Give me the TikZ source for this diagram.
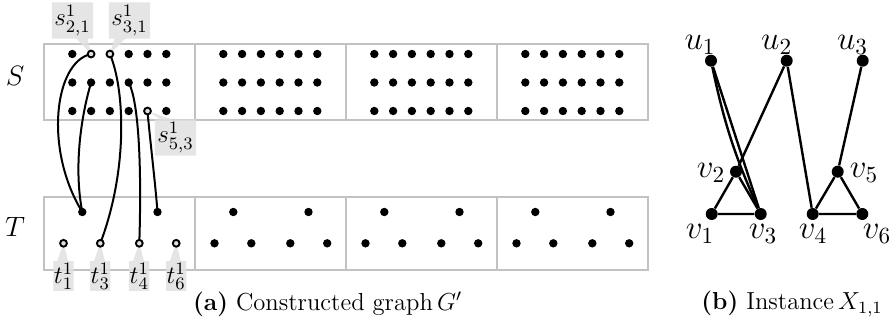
\RequirePackage{fix-cm}
\documentclass[tikz,border=0pt]{standalone}
\usetikzlibrary{shapes.callouts}
\definecolor{boxgray}{HTML}{C2C2C2}
\definecolor{tagfill}{HTML}{E0E0E0}
\pgfdeclarelayer{back}
\pgfdeclarelayer{mid}
\pgfsetlayers{back,mid,main}
\begin{document}
\begin{tikzpicture}[x=0.5pt,y=-0.5pt,
  cell/.style={draw=boxgray, line width=0.75pt},
  dot/.style={circle, fill=black, inner sep=0pt, minimum size=4.2pt},
  ring/.style={circle, draw=black, fill=tagfill, line width=0.95pt, inner sep=0pt, minimum size=3.4pt},
  stag/.style={rectangle callout, fill=tagfill, fill opacity=0.85, text opacity=1,
    inner xsep=1.2pt, inner ysep=1.6pt,
    callout pointer width=5.5pt, font=\fontsize{12.5}{14}\selectfont},
  ttag/.style={stag, inner xsep=0.3pt, inner ysep=0.8pt},
  link/.style={line width=1pt},
  vtx/.style={circle, fill=black, inner sep=0pt, minimum size=6pt},
  edge/.style={line width=1.2pt},
  vlab/.style={inner sep=0pt, font=\fontsize{16.5}{19}\selectfont},
  side/.style={inner sep=0pt, font=\fontsize{14}{16}\selectfont},
  capt/.style={inner sep=0pt, font=\fontsize{12.3}{14}\selectfont}]
\useasboundingbox (0,0) rectangle (894,327);

% ---------- (a) the graph G' ----------
% S: four blocks of 3 x 6 vertices
\foreach \k in {0,...,3}{
  \foreach \r in {1,2,3}{
    \foreach \c in {1,...,6}{
      \pgfmathtruncatemacro\isring{\k==0 && ((\r==1 && (\c==2 || \c==3)) || (\r==3 && \c==5))}
      \ifnum\isring=1 \def\st{ring}\else\def\st{dot}\fi
      \node[\st] (s-\k-\c-\r) at ({72.3+18.8*(\c-1)+151*\k},{54+28.5*(\r-1)}) {};
    }
  }
}
% T: four blocks with two upper and four lower vertices
\foreach \k in {0,...,3}{
  \node[dot] (tt-\k-1) at ({44+151*\k+38.3},212) {};
  \node[dot] (tt-\k-2) at ({44+151*\k+113.5},212) {};
  \ifnum\k=0 \def\st{ring}\else\def\st{dot}\fi
  \foreach \i/\dx in {1/19.5,2/56.3,3/95.3,4/132.2}{
    \node[\st] (tb-\k-\i) at ({44+151*\k+\dx},243.3) {};
  }
}

\begin{pgfonlayer}{back}
  % block frames
  \foreach \k in {0,...,3}{
    \draw[cell] ({44+151*\k},44) rectangle ({195+151*\k},120);
    \draw[cell] ({44+151*\k},197) rectangle ({195+151*\k},270);
  }
  % labels of the marked vertices
  \node[stag, callout absolute pointer={(s-0-2-1.center)}] (ls21) at (72.5,20.5) {$s^1_{2,1}$};
  \node[stag, callout absolute pointer={(s-0-3-1.center)}] (ls31) at (129.5,20.5) {$s^1_{3,1}$};
  \node[stag, callout absolute pointer={(s-0-5-3.center)}] (ls53) at (175.5,137.5) {$s^1_{5,3}$};
  \node[ttag, callout absolute pointer={(tb-0-1.center)}] (lt1) at (63.5,276) {$t^1_1$};
  \node[ttag, callout absolute pointer={(tb-0-2.center)}] (lt3) at (100.3,276) {$t^1_3$};
  \node[ttag, callout absolute pointer={(tb-0-3.center)}] (lt4) at (139.3,276) {$t^1_4$};
  \node[ttag, callout absolute pointer={(tb-0-4.center)}] (lt6) at (176.2,276) {$t^1_6$};
\end{pgfonlayer}

\begin{pgfonlayer}{mid}
  \draw[link] (s-0-2-1.center) .. controls (54,62) and (44,150) .. (tt-0-1.center);
  \draw[link] (s-0-2-2.center) .. controls (80,120) and (74,170) .. (tt-0-1.center);
  \draw[link] (s-0-3-1.center) .. controls (125,90) and (128,170) .. (tb-0-2.center);
  \draw[link] (s-0-4-2.center) .. controls (138,100) and (142,160) .. (tb-0-3.center);
  \draw[link] (s-0-5-3.center) .. controls (150,140) and (155,180) .. (tt-0-2.center);
\end{pgfonlayer}

\node[side] (lS) at (15,76) {$S$};
\node[side] (lT) at (15,227) {$T$};
\node[capt] (capa) at (327.5,304) {\textbf{(a)} Constructed graph\,$G'$};

% ---------- (b) the instance X_{1,1} ----------
\node[vtx] (u1) at (711,60.7) {};
\node[vtx] (u2) at (786.7,60.7) {};
\node[vtx] (u3) at (862.7,60.7) {};
\node[vtx] (v1) at (711.7,214) {};
\node[vtx] (v2) at (736,171.7) {};
\node[vtx] (v3) at (760.7,214) {};
\node[vtx] (v4) at (812.7,214) {};
\node[vtx] (v5) at (837.7,171.7) {};
\node[vtx] (v6) at (862.3,214) {};

\draw[edge] (u1) -- (v3);
\draw[edge] (u1) to[bend right=6] (v3);
\draw[edge] (u2) -- (v2);
\draw[edge] (u2) -- (v4);
\draw[edge] (u3) -- (v5);
\draw[edge] (v1) -- (v2) -- (v3) -- (v1);
\draw[edge] (v4) -- (v5) -- (v6) -- (v4);

\node[vlab] (lu1) at (700,44.7) {$u_1$};
\node[vlab] (lu2) at (776.7,44.7) {$u_2$};
\node[vlab] (lu3) at (852.5,44.7) {$u_3$};
\node[vlab] (lv2) at (711,173) {$v_2$};
\node[vlab] (lv5) at (864,173) {$v_5$};
\node[vlab] (lv1) at (700,234) {$v_1$};
\node[vlab] (lv3) at (763,234) {$v_3$};
\node[vlab] (lv4) at (813,234) {$v_4$};
\node[vlab] (lv6) at (877,234) {$v_6$};

\node[capt] (capb) at (792,304) {\textbf{(b)} Instance\,$X_{1,1}$};
\end{tikzpicture}
\end{document}
